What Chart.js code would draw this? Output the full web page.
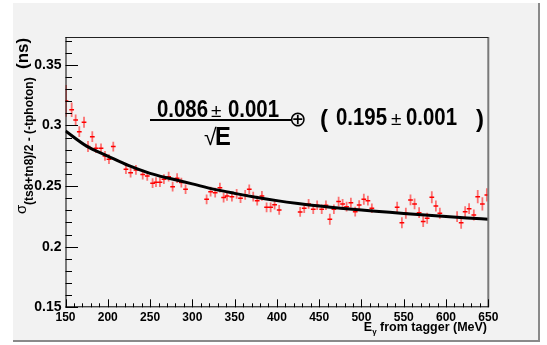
<!DOCTYPE html>
<html>
<head>
<meta charset="utf-8">
<script src="https://cdn.jsdelivr.net/npm/chart.js@4.4.0/dist/chart.umd.min.js"></script>
<style>
  html, body { margin: 0; padding: 0; background: #fff; }
  #wrap { width: 547px; height: 345px; }
</style>
</head>
<body>
<div id="wrap"><canvas id="zeitAufloesung"></canvas></div>
<script>
// Messpunkte (Energie in MeV, Aufloesung in ns)
const energie = [150.6, 157.3, 162, 166.3, 171.9, 176.6, 181.7, 186, 192, 196.7, 201.4, 206.5, 221.5, 227, 233.3, 241.3,
  246.7, 253, 257, 261.7, 266.4, 272, 276.7, 282, 287, 292, 316.9, 321.6, 327, 332.6, 337,
  341, 346.8, 352.4, 357, 362.5, 367.3, 372, 376.7, 382.3, 387.8, 392.6, 397.3, 402.7, 427.5, 432.3,
  437.5, 443, 447.6, 453, 458, 462.6, 467.4, 473, 477.7, 482.4, 487.5, 492.6, 497.3, 502.8, 507.6, 512.3,
  542.2, 547.8, 552.5, 558, 562.8, 568.2, 573, 577.7, 583.2, 588, 592.7, 613.1, 617.9, 622.6, 627.3, 632.9, 637.5, 643, 648.3];
const sigma = [0.3203, 0.3129, 0.3046, 0.2949, 0.3027, 0.2826, 0.2908, 0.2812, 0.2812, 0.2749, 0.2722, 0.2826, 0.2639, 0.2611, 0.2633, 0.2595,
  0.2584, 0.2524, 0.2532, 0.2532, 0.2557, 0.2578, 0.2495, 0.2565, 0.2529, 0.2474, 0.2391, 0.2454, 0.2446, 0.2487, 0.2405,
  0.2419, 0.2413, 0.2435, 0.2400, 0.2427, 0.2474, 0.2413, 0.2380, 0.2419, 0.2325, 0.2325, 0.2347, 0.2303, 0.2287, 0.2317,
  0.2353, 0.2309, 0.2342, 0.2309, 0.2342, 0.2226, 0.2309, 0.2372, 0.2353, 0.2330, 0.2363, 0.2289, 0.2344, 0.2391, 0.2380, 0.2317,
  0.2325, 0.2198, 0.2276, 0.2386, 0.2353, 0.2281, 0.2207, 0.2235, 0.2408, 0.2336, 0.2276, 0.2248, 0.2198, 0.2289, 0.2314, 0.2262, 0.2413, 0.2353, 0.2427];
const sigmaFehler = [0.0130, 0.0060, 0.0045, 0.0045, 0.0045, 0.0045, 0.0045, 0.0040, 0.0040, 0.0040, 0.0040, 0.0040, 0.0040, 0.0040, 0.0040, 0.0040,
  0.0040, 0.0040, 0.0040, 0.0040, 0.0040, 0.0040, 0.0040, 0.0040, 0.0040, 0.0040, 0.0040, 0.0040, 0.0040, 0.0040, 0.0040,
  0.0040, 0.0040, 0.0040, 0.0040, 0.0040, 0.0040, 0.0040, 0.0040, 0.0040, 0.0040, 0.0040, 0.0040, 0.0040, 0.0040, 0.0040,
  0.0040, 0.0040, 0.0040, 0.0040, 0.0040, 0.0045, 0.0040, 0.0040, 0.0040, 0.0040, 0.0040, 0.0040, 0.0040, 0.0045, 0.0040, 0.0040,
  0.0045, 0.0045, 0.0045, 0.0045, 0.0045, 0.0045, 0.0045, 0.0045, 0.0050, 0.0045, 0.0045, 0.0045, 0.0050, 0.0045, 0.0045, 0.0045, 0.0055, 0.0055, 0.0055];
const energieFehler = 2.8;

// Fitkurve
const fitEnergie = [150, 175, 200, 225, 250, 275, 300, 325, 350, 375, 400, 425, 450, 475, 500, 525, 550, 575, 600, 625, 650];
const fitSigma = [0.2955, 0.2830, 0.2748, 0.2668, 0.2605, 0.2560, 0.2518, 0.2475, 0.2440, 0.2408, 0.2380, 0.2356, 0.2335, 0.2318,
  0.2302, 0.2288, 0.2274, 0.2261, 0.2249, 0.2237, 0.2226];

// Achsen
const xTickWerte = [150, 200, 250, 300, 350, 400, 450, 500, 550, 600, 650];
const yTickWerte = [0.15, 0.2, 0.25, 0.3, 0.35];
const xMin = 150, xMax = 650, yMin = 0.15, yMax = 0.373;

const schrift = '"Liberation Sans", Arial, sans-serif';

// Fehlerbalken als Liniensegmente mit Luecken
const senkrecht = [];
const waagrecht = [];
for (let i = 0; i < energie.length; i++) {
  senkrecht.push({ x: energie[i], y: sigma[i] - sigmaFehler[i] });
  senkrecht.push({ x: energie[i], y: sigma[i] + sigmaFehler[i] });
  senkrecht.push({ x: energie[i], y: null });
  waagrecht.push({ x: energie[i] - energieFehler, y: sigma[i] });
  waagrecht.push({ x: energie[i] + energieFehler, y: sigma[i] });
  waagrecht.push({ x: energie[i], y: null });
}

// Text mit horizontaler Stauchung schreiben
function schreibe(ctx, text, x, y, font, sx) {
  ctx.save();
  ctx.translate(x, y);
  ctx.scale(sx, 1);
  ctx.font = font;
  ctx.fillText(text, 0, 0);
  ctx.restore();
}

const hintergrund = {
  id: "hintergrund",
  beforeDraw(chart) {
    const ctx = chart.ctx;
    ctx.save();
    ctx.fillStyle = "#ffffff";
    ctx.fillRect(0, 0, chart.width, chart.height);
    ctx.fillStyle = "#f2f2f2";
    ctx.fillRect(13, 3, 526, 338);
    ctx.fillStyle = "#8a8a8a";
    ctx.fillRect(538, 3, 2, 339);
    ctx.fillRect(13, 340, 527, 2);
    ctx.restore();
  },
};

const rahmen = {
  id: "rahmen",
  afterDraw(chart) {
    const ctx = chart.ctx;
    const a = chart.chartArea;
    const xs = chart.scales.x;
    const ys = chart.scales.y;
    ctx.save();
    // Rahmen
    ctx.strokeStyle = "#7a7a7a";
    ctx.lineWidth = 2;
    ctx.beginPath();
    ctx.moveTo(a.right, a.top);
    ctx.lineTo(a.right, a.bottom);
    ctx.stroke();
    ctx.strokeStyle = "#222";
    ctx.lineWidth = 1;
    ctx.beginPath();
    ctx.moveTo(a.left, a.top + 0.5);
    ctx.lineTo(a.right, a.top + 0.5);
    ctx.stroke();
    ctx.strokeStyle = "#000";
    ctx.beginPath();
    ctx.moveTo(a.left + 0.5, a.top);
    ctx.lineTo(a.left + 0.5, a.bottom);
    ctx.moveTo(a.left, a.bottom - 0.5);
    ctx.lineTo(a.right, a.bottom - 0.5);
    ctx.stroke();

    // Ticks nach innen
    ctx.beginPath();
    for (let v = xMin; v <= xMax + 0.001; v += 10) {
      const px = Math.round(xs.getPixelForValue(v)) + 0.5;
      const lang = (Math.round(v) % 50 === 0) ? 8 : 4;
      ctx.moveTo(px, a.bottom);
      ctx.lineTo(px, a.bottom - lang);
    }
    for (let k = 15; k <= 37; k++) {
      const py = Math.round(ys.getPixelForValue(k / 100)) + 0.5;
      const lang = (k % 5 === 0) ? 12.5 : 6.5;
      ctx.moveTo(a.left, py);
      ctx.lineTo(a.left + lang, py);
    }
    ctx.stroke();

    // x-Achsentitel
    ctx.fillStyle = "#000";
    ctx.textBaseline = "alphabetic";
    const fE = "bold 12.5px " + schrift;
    const fG = "bold 8px " + schrift;
    ctx.font = fE;
    const wE = ctx.measureText("E").width;
    const rest = " from tagger (MeV)";
    const wR = ctx.measureText(rest).width;
    ctx.font = fG;
    const wG = ctx.measureText("γ").width;
    let x0 = 487 - (wE + wG + wR);
    ctx.font = fE;
    ctx.fillText("E", x0, 331);
    ctx.font = fG;
    ctx.fillText("γ", x0 + wE, 334);
    ctx.font = fE;
    ctx.fillText(rest, x0 + wE + wG, 331);

    // y-Achsentitel (gedreht)
    ctx.save();
    ctx.translate(26, 214);
    ctx.rotate(-Math.PI / 2);
    ctx.font = "15px " + schrift;
    ctx.fillText("σ", 0, 0);
    ctx.restore();
    ctx.save();
    ctx.translate(33, 205);
    ctx.rotate(-Math.PI / 2);
    ctx.font = "bold 12px " + schrift;
    ctx.fillText("(ts8+tn8)/2 - (-tphoton)", 0, 0);
    ctx.restore();
    ctx.save();
    ctx.translate(28, 69);
    ctx.rotate(-Math.PI / 2);
    ctx.font = "bold 17px " + schrift;
    ctx.fillText("(ns)", 0, 0);
    ctx.restore();

    // Formel
    const fett = "bold 24px " + schrift;
    const pm = "19px " + schrift;
    const sx = 0.85;
    schreibe(ctx, "0.086", 157, 117, fett, sx);
    schreibe(ctx, "±", 211, 117, pm, 1);
    schreibe(ctx, "0.001", 228, 117, fett, sx);
    ctx.fillRect(150, 119, 142, 2);
    schreibe(ctx, "√", 204, 145, "23px " + schrift, 1);
    schreibe(ctx, "E", 215, 145, "bold 25px " + schrift, 0.95);
    schreibe(ctx, "⊕", 289, 126, '21px "DejaVu Sans"', 1);
    schreibe(ctx, "(", 320, 127, "bold 24px " + schrift, 1);
    schreibe(ctx, "0.195", 336, 125, fett, sx);
    schreibe(ctx, "±", 391, 125, pm, 1);
    schreibe(ctx, "0.001", 406, 125, fett, sx);
    schreibe(ctx, ")", 476, 127, "bold 24px " + schrift, 1);
    ctx.restore();
  },
};

const canvas = document.getElementById("zeitAufloesung").getContext("2d");
const diagramm = new Chart(canvas, {
  type: "line",
  data: {
    datasets: [
      {
        label: "Fit",
        data: fitEnergie.map((e, i) => ({ x: e, y: fitSigma[i] })),
        borderColor: "#000",
        borderWidth: 3,
        pointRadius: 0,
        cubicInterpolationMode: "monotone",
        order: 0,
      },
      {
        label: "waagrecht",
        data: waagrecht,
        borderColor: "#ff0000",
        borderWidth: 1.5,
        pointRadius: 0,
        spanGaps: false,
        order: 1,
      },
      {
        label: "senkrecht",
        data: senkrecht,
        borderColor: "rgba(255, 60, 60, 0.7)",
        borderWidth: 1.8,
        pointRadius: 0,
        spanGaps: false,
        order: 2,
      },
    ],
  },
  options: {
    animation: false,
    responsive: true,
    maintainAspectRatio: false,
    layout: {
      padding: { left: 0, top: 37, right: 58.7, bottom: 0 },
    },
    plugins: {
      legend: { display: false },
      tooltip: { enabled: false },
      title: { display: false },
    },
    scales: {
      x: {
        type: "linear",
        min: xMin,
        max: xMax,
        afterFit(s) { s.height = 345 - 307.3; },
        afterBuildTicks(s) { s.ticks = xTickWerte.map((v) => ({ value: v })); },
        grid: { display: false, drawTicks: false },
        border: { display: false },
        ticks: {
          autoSkip: false,
          maxRotation: 0,
          padding: 3,
          color: "#000",
          font: { family: schrift, weight: "bold", size: 12 },
        },
      },
      y: {
        type: "linear",
        min: yMin,
        max: yMax,
        afterFit(s) { s.width = 65.5; },
        afterBuildTicks(s) { s.ticks = yTickWerte.map((v) => ({ value: v })); },
        grid: { display: false, drawTicks: false },
        border: { display: false },
        ticks: {
          padding: 4,
          color: "#000",
          font: { family: schrift, weight: "bold", size: 14 },
          callback: (v) => String(Number(v.toFixed(2))),
        },
      },
    },
  },
  plugins: [hintergrund, rahmen],
});
</script>
</body>
</html>
